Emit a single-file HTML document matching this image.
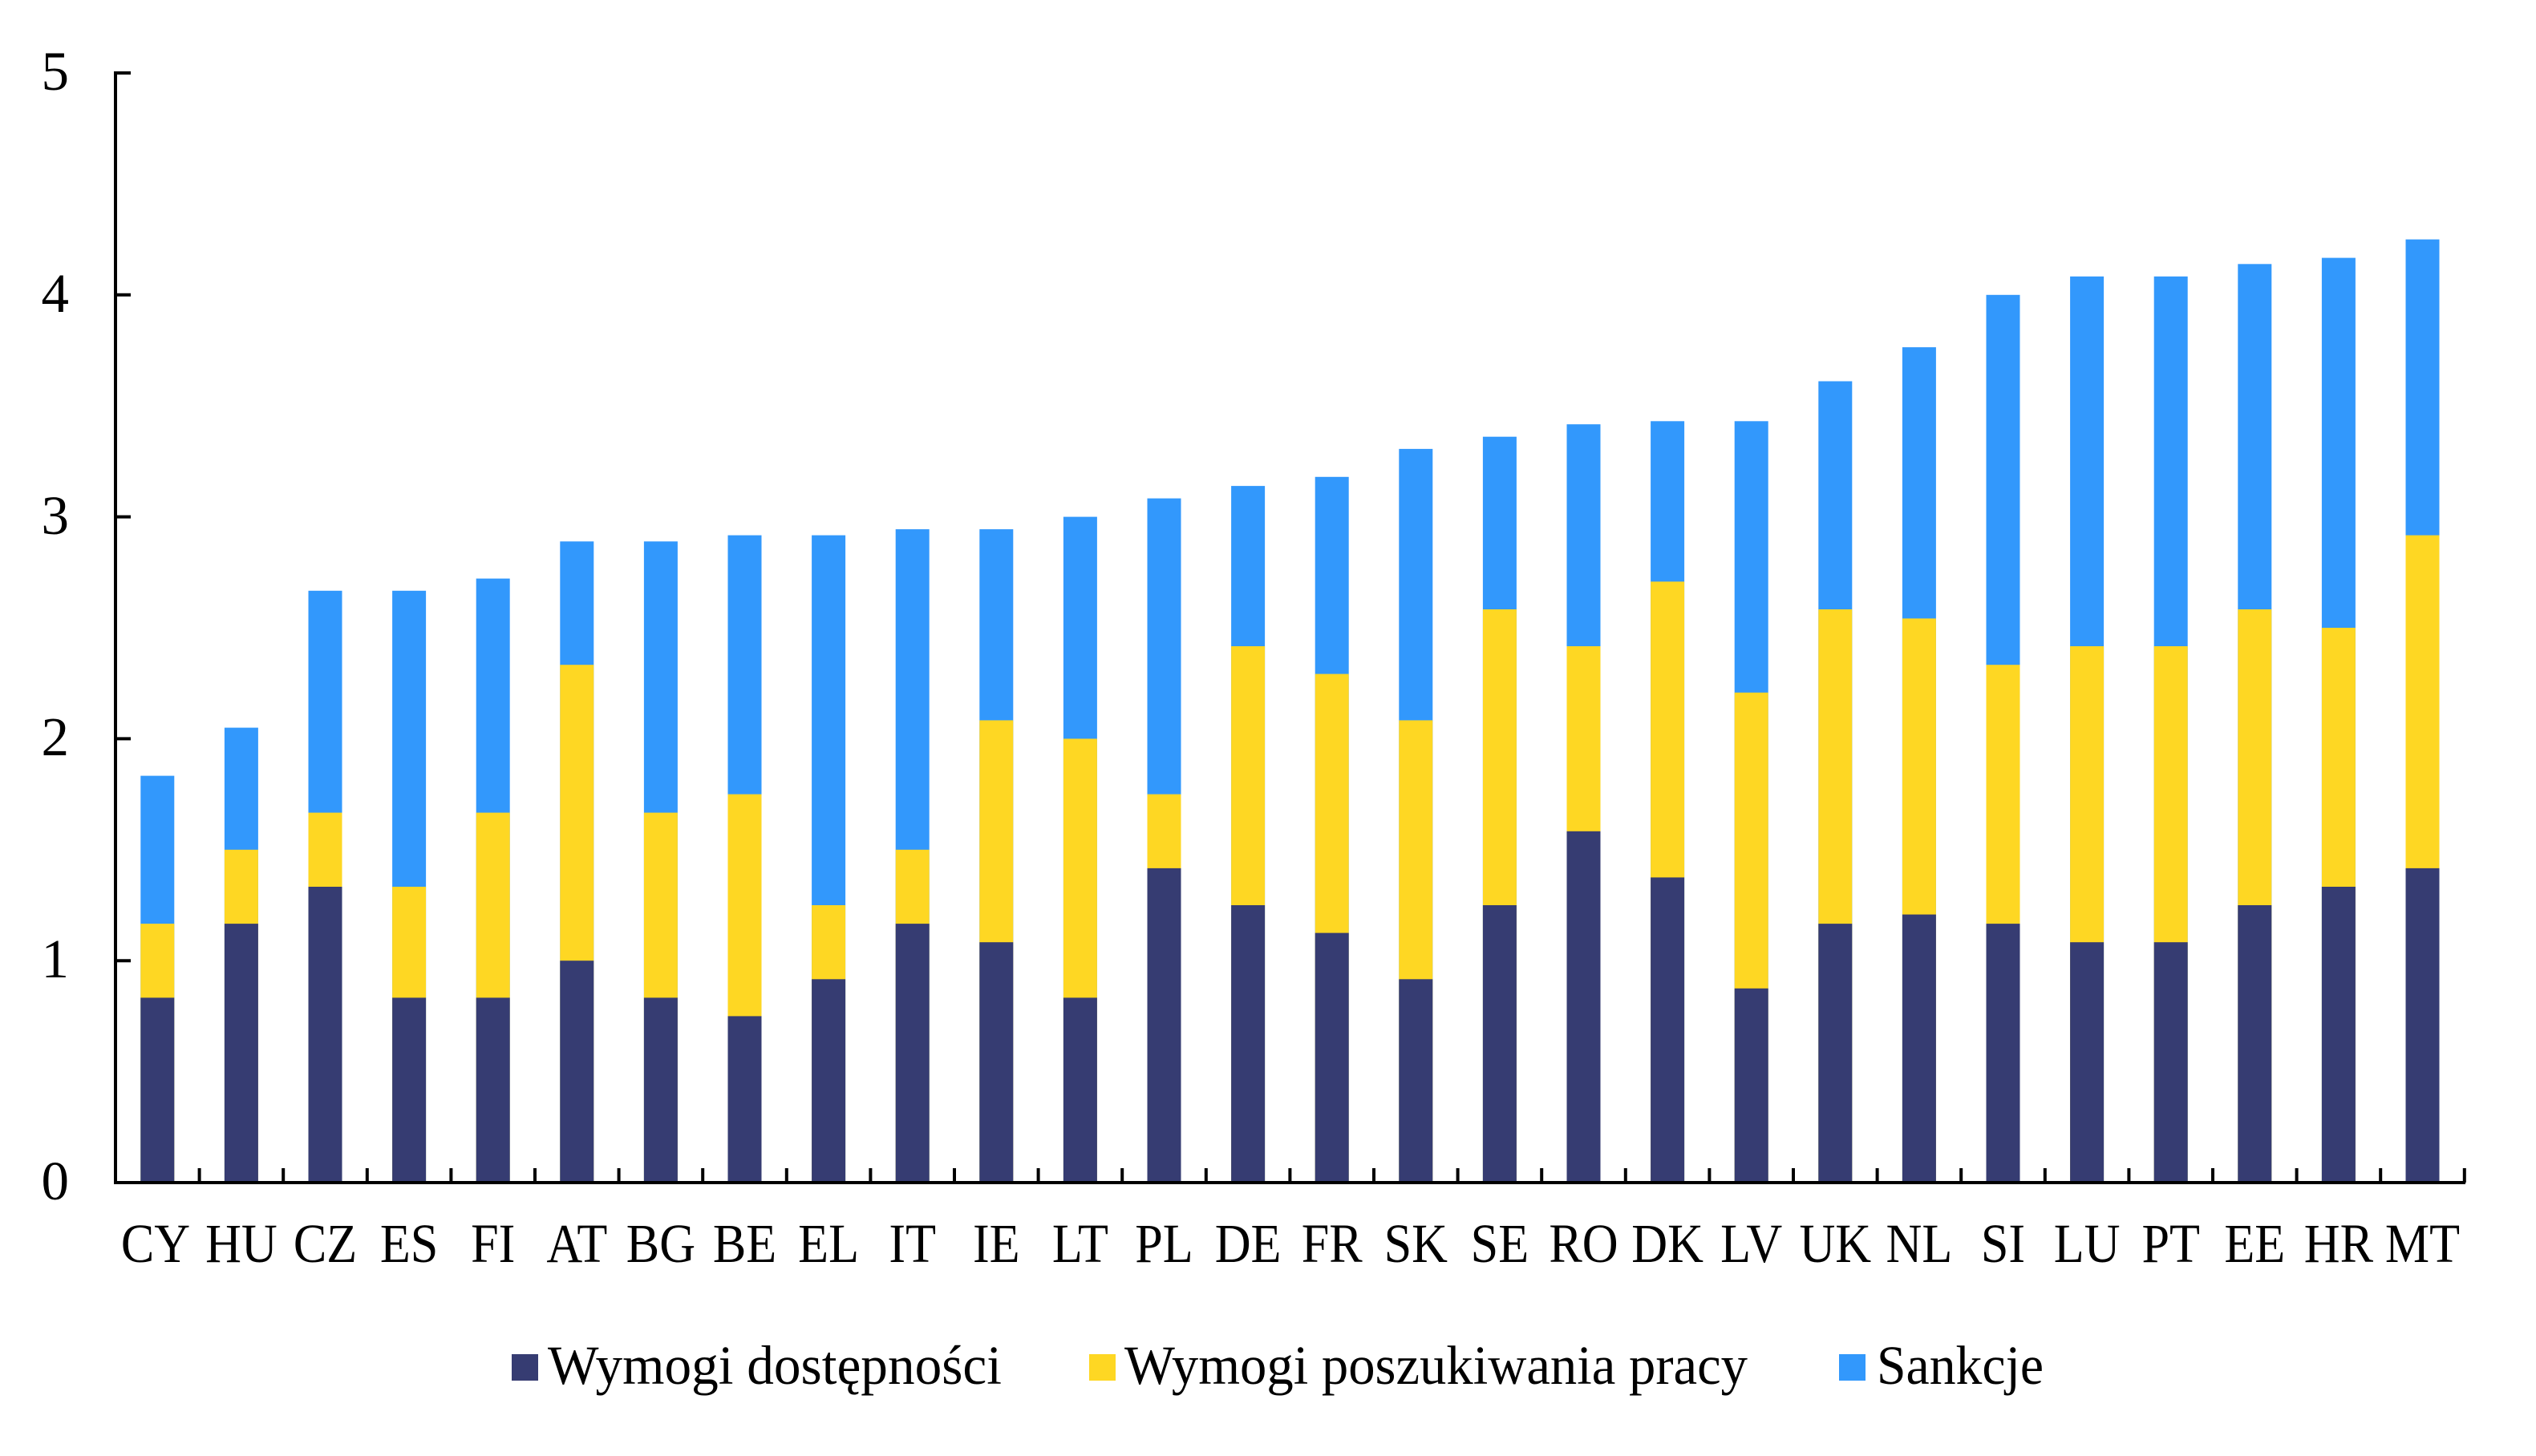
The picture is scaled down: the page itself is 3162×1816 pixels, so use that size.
<!DOCTYPE html>
<html>
<head>
<meta charset="utf-8">
<style>
html,body{margin:0;padding:0;background:#fff;}
svg{display:block;}
text{font-family:"Liberation Serif","Times New Roman",serif;fill:#000;}
</style>
</head>
<body>
<svg width="3162" height="1816" viewBox="0 0 3162 1816" xmlns="http://www.w3.org/2000/svg">
<defs>
<clipPath id="plot"><rect x="0" y="0" width="3162" height="1475"/></clipPath>
</defs>
<rect x="0" y="0" width="3162" height="1816" fill="#fff"/>
<g clip-path="url(#plot)">
<g fill="#3298FC">
<rect x="175.3" y="967.6" width="42" height="600"/>
<rect x="279.9" y="907.6" width="42" height="600"/>
<rect x="384.5" y="736.8" width="42" height="800"/>
<rect x="489.1" y="736.8" width="42" height="800"/>
<rect x="593.7" y="721.6" width="42" height="800"/>
<rect x="698.3" y="675.3" width="42" height="900"/>
<rect x="802.9" y="675.3" width="42" height="900"/>
<rect x="907.5" y="667.6" width="42" height="900"/>
<rect x="1012.1" y="667.6" width="42" height="900"/>
<rect x="1116.7" y="660.1" width="42" height="900"/>
<rect x="1221.3" y="660.1" width="42" height="900"/>
<rect x="1325.9" y="644.6" width="42" height="900"/>
<rect x="1430.5" y="621.6" width="42" height="900"/>
<rect x="1535.1" y="606.1" width="42" height="900"/>
<rect x="1639.7" y="594.8" width="42" height="900"/>
<rect x="1744.3" y="559.9" width="42" height="1000"/>
<rect x="1848.9" y="544.7" width="42" height="1000"/>
<rect x="1953.5" y="529.2" width="42" height="1000"/>
<rect x="2058.1" y="525.3" width="42" height="1000"/>
<rect x="2162.7" y="525.3" width="42" height="1000"/>
<rect x="2267.3" y="475.5" width="42" height="1100"/>
<rect x="2371.9" y="433.1" width="42" height="1100"/>
<rect x="2476.5" y="367.8" width="42" height="1200"/>
<rect x="2581.1" y="344.8" width="42" height="1200"/>
<rect x="2685.7" y="344.8" width="42" height="1200"/>
<rect x="2790.3" y="329.3" width="42" height="1200"/>
<rect x="2894.9" y="321.6" width="42" height="1200"/>
<rect x="2999.5" y="298.6" width="42" height="1200"/>
</g>
<g fill="#FED723">
<rect x="175.3" y="1152.1" width="42" height="600"/>
<rect x="279.9" y="1059.8" width="42" height="600"/>
<rect x="384.5" y="1013.6" width="42" height="600"/>
<rect x="489.1" y="1106.0" width="42" height="600"/>
<rect x="593.7" y="1013.6" width="42" height="600"/>
<rect x="698.3" y="829.2" width="42" height="800"/>
<rect x="802.9" y="1013.6" width="42" height="600"/>
<rect x="907.5" y="990.6" width="42" height="600"/>
<rect x="1012.1" y="1129.0" width="42" height="600"/>
<rect x="1116.7" y="1059.8" width="42" height="600"/>
<rect x="1221.3" y="898.4" width="42" height="700"/>
<rect x="1325.9" y="921.4" width="42" height="700"/>
<rect x="1430.5" y="990.6" width="42" height="600"/>
<rect x="1535.1" y="806.0" width="42" height="800"/>
<rect x="1639.7" y="840.6" width="42" height="800"/>
<rect x="1744.3" y="898.4" width="42" height="700"/>
<rect x="1848.9" y="760.0" width="42" height="800"/>
<rect x="1953.5" y="806.0" width="42" height="800"/>
<rect x="2058.1" y="725.4" width="42" height="800"/>
<rect x="2162.7" y="863.8" width="42" height="800"/>
<rect x="2267.3" y="760.0" width="42" height="800"/>
<rect x="2371.9" y="771.4" width="42" height="800"/>
<rect x="2476.5" y="829.2" width="42" height="800"/>
<rect x="2581.1" y="806.0" width="42" height="800"/>
<rect x="2685.7" y="806.0" width="42" height="800"/>
<rect x="2790.3" y="760.0" width="42" height="800"/>
<rect x="2894.9" y="783.0" width="42" height="800"/>
<rect x="2999.5" y="667.6" width="42" height="900"/>
</g>
<g fill="#363C72">
<rect x="175.3" y="1244.4" width="42" height="400"/>
<rect x="279.9" y="1152.1" width="42" height="400"/>
<rect x="384.5" y="1106.0" width="42" height="400"/>
<rect x="489.1" y="1244.4" width="42" height="400"/>
<rect x="593.7" y="1244.4" width="42" height="400"/>
<rect x="698.3" y="1198.2" width="42" height="400"/>
<rect x="802.9" y="1244.4" width="42" height="400"/>
<rect x="907.5" y="1267.4" width="42" height="400"/>
<rect x="1012.1" y="1221.3" width="42" height="400"/>
<rect x="1116.7" y="1152.1" width="42" height="400"/>
<rect x="1221.3" y="1175.2" width="42" height="400"/>
<rect x="1325.9" y="1244.4" width="42" height="400"/>
<rect x="1430.5" y="1082.9" width="42" height="500"/>
<rect x="1535.1" y="1129.0" width="42" height="400"/>
<rect x="1639.7" y="1163.6" width="42" height="400"/>
<rect x="1744.3" y="1221.3" width="42" height="400"/>
<rect x="1848.9" y="1129.0" width="42" height="400"/>
<rect x="1953.5" y="1036.8" width="42" height="500"/>
<rect x="2058.1" y="1094.4" width="42" height="500"/>
<rect x="2162.7" y="1232.8" width="42" height="400"/>
<rect x="2267.3" y="1152.1" width="42" height="400"/>
<rect x="2371.9" y="1140.6" width="42" height="400"/>
<rect x="2476.5" y="1152.1" width="42" height="400"/>
<rect x="2581.1" y="1175.2" width="42" height="400"/>
<rect x="2685.7" y="1175.2" width="42" height="400"/>
<rect x="2790.3" y="1129.0" width="42" height="400"/>
<rect x="2894.9" y="1106.0" width="42" height="400"/>
<rect x="2999.5" y="1082.9" width="42" height="500"/>
</g>
</g>

<!-- axes -->
<g stroke="#000" stroke-width="4" fill="none">
<line x1="144" y1="89" x2="144" y2="1477"/>
<line x1="142" y1="1475" x2="3074" y2="1475"/>
<line x1="144" y1="91" x2="163" y2="91"/>
<line x1="144" y1="367.8" x2="163" y2="367.8"/>
<line x1="144" y1="644.6" x2="163" y2="644.6"/>
<line x1="144" y1="921.4" x2="163" y2="921.4"/>
<line x1="144" y1="1198.2" x2="163" y2="1198.2"/>
<path d="M248.6 1475V1457M353.2 1475V1457M457.8 1475V1457M562.4 1475V1457M667 1475V1457M771.6 1475V1457M876.2 1475V1457M980.8 1475V1457M1085.4 1475V1457M1190 1475V1457M1294.6 1475V1457M1399.2 1475V1457M1503.8 1475V1457M1608.4 1475V1457M1713 1475V1457M1817.6 1475V1457M1922.2 1475V1457M2026.8 1475V1457M2131.4 1475V1457M2236 1475V1457M2340.6 1475V1457M2445.2 1475V1457M2549.8 1475V1457M2654.4 1475V1457M2759 1475V1457M2863.6 1475V1457M2968.2 1475V1457M3072.8 1475V1457"/>
</g>

<!-- y labels -->
<g font-size="69" text-anchor="end">
<text x="86" y="112">5</text>
<text x="86" y="389">4</text>
<text x="86" y="666">3</text>
<text x="86" y="942">2</text>
<text x="86" y="1219">1</text>
<text x="86" y="1496">0</text>
</g>

<!-- x labels -->
<g font-size="69" text-anchor="middle">
<text transform="translate(194,1574) scale(0.9,1)">CY</text>
<text transform="translate(300.9,1574) scale(0.9,1)">HU</text>
<text transform="translate(405.5,1574) scale(0.9,1)">CZ</text>
<text transform="translate(510.1,1574) scale(0.9,1)">ES</text>
<text transform="translate(614.7,1574) scale(0.9,1)">FI</text>
<text transform="translate(719.3,1574) scale(0.9,1)">AT</text>
<text transform="translate(823.9,1574) scale(0.9,1)">BG</text>
<text transform="translate(928.5,1574) scale(0.9,1)">BE</text>
<text transform="translate(1033.1,1574) scale(0.9,1)">EL</text>
<text transform="translate(1137.7,1574) scale(0.9,1)">IT</text>
<text transform="translate(1242.3,1574) scale(0.9,1)">IE</text>
<text transform="translate(1346.9,1574) scale(0.9,1)">LT</text>
<text transform="translate(1451.5,1574) scale(0.9,1)">PL</text>
<text transform="translate(1556.1,1574) scale(0.9,1)">DE</text>
<text transform="translate(1660.7,1574) scale(0.9,1)">FR</text>
<text transform="translate(1765.3,1574) scale(0.9,1)">SK</text>
<text transform="translate(1869.9,1574) scale(0.9,1)">SE</text>
<text transform="translate(1974.5,1574) scale(0.9,1)">RO</text>
<text transform="translate(2079.1,1574) scale(0.9,1)">DK</text>
<text transform="translate(2183.7,1574) scale(0.9,1)">LV</text>
<text transform="translate(2288.3,1574) scale(0.9,1)">UK</text>
<text transform="translate(2392.9,1574) scale(0.9,1)">NL</text>
<text transform="translate(2497.5,1574) scale(0.9,1)">SI</text>
<text transform="translate(2602.1,1574) scale(0.9,1)">LU</text>
<text transform="translate(2706.7,1574) scale(0.9,1)">PT</text>
<text transform="translate(2811.3,1574) scale(0.9,1)">EE</text>
<text transform="translate(2915.9,1574) scale(0.9,1)">HR</text>
<text transform="translate(3020.5,1574) scale(0.9,1)">MT</text>
</g>

<!-- legend -->
<rect x="638" y="1689" width="33" height="33" fill="#363C72"/>
<rect x="1358" y="1689" width="33" height="33" fill="#FED723"/>
<rect x="2293" y="1689" width="33" height="33" fill="#3298FC"/>
<g font-size="69">
<text x="683" y="1726" textLength="566" lengthAdjust="spacingAndGlyphs">Wymogi dostępności</text>
<text x="1402" y="1726" textLength="777" lengthAdjust="spacingAndGlyphs">Wymogi poszukiwania pracy</text>
<text x="2340" y="1726" textLength="208" lengthAdjust="spacingAndGlyphs">Sankcje</text>
</g>
</svg>
</body>
</html>
